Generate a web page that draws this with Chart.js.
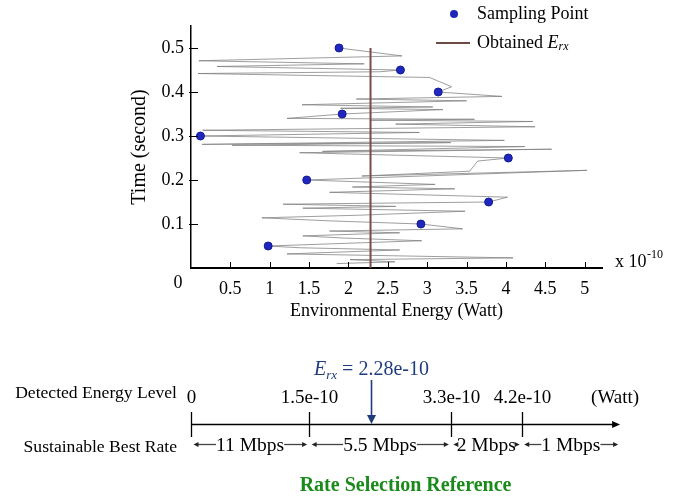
<!DOCTYPE html>
<html>
<head>
<meta charset="utf-8">
<script src="https://cdn.jsdelivr.net/npm/chart.js@4.4.0/dist/chart.umd.min.js"></script>
<style>
  html, body { margin: 0; padding: 0; background: #fff; }
</style>
</head>
<body>
<canvas id="energyChart" width="682" height="500"></canvas>
<script>
// Sampling points (energy in units of 1e-10 W, time in seconds)
const sampleEnergy = [0.98, 2.92, 3.78, 1.47, 4.03, 0.12, 1.92, 3.14, 2.66, 1.88];
const sampleTime = [0.05, 0.10, 0.15, 0.20, 0.25, 0.30, 0.35, 0.40, 0.45, 0.50];

// Measured environmental energy trace (turning points)
const traceEnergy = [1.85, 2.59, 2.02, 4.09, 1.22, 2.65, 1.38, 0.98, 2.93, 1.95,
  1.42, 2.65, 1.76, 3.45, 2.92, 1.78, 0.90, 2.14, 3.48, 1.42,
  2.60, 1.17, 3.78, 4.02, 1.76, 3.35, 2.05, 3.10, 1.47, 5.03,
  2.17, 3.54, 3.64, 4.03, 1.38, 4.58, 1.67, 4.24, 0.52, 3.30,
  0.14, 3.98, 0.12, 2.90, 0.15, 4.37, 2.60, 4.34, 2.27, 3.60,
  1.22, 1.92, 3.20, 1.90, 3.07, 1.41, 3.50, 2.10, 3.95, 3.14,
  3.31, 3.03, 0.09, 2.40, 2.66, 0.33, 2.20, 0.10, 2.68, 1.88];
const traceTime = [0.010, 0.014, 0.019, 0.023, 0.032, 0.041, 0.046, 0.050, 0.062, 0.068,
  0.073, 0.080, 0.084, 0.089, 0.100, 0.107, 0.114, 0.120, 0.129, 0.136,
  0.140, 0.145, 0.150, 0.161, 0.172, 0.180, 0.184, 0.190, 0.200, 0.222,
  0.209, 0.220, 0.243, 0.250, 0.262, 0.270, 0.265, 0.276, 0.279, 0.285,
  0.281, 0.290, 0.300, 0.308, 0.313, 0.321, 0.327, 0.333, 0.336, 0.338,
  0.340, 0.350, 0.360, 0.363, 0.366, 0.371, 0.380, 0.384, 0.390, 0.400,
  0.412, 0.433, 0.442, 0.446, 0.450, 0.458, 0.464, 0.471, 0.482, 0.500];

// Obtained E_rx
const erxValue = 2.28;
const erxSpan = [0, 0.5];

const xTicks = [0.5, 1, 1.5, 2, 2.5, 3, 3.5, 4, 4.5, 5];
const yTicks = [0.1, 0.2, 0.3, 0.4, 0.5];

// Rate selection reference
const levelValues = [0, 1.5, 3.3, 4.2];
const levelLabels = ['0', '1.5e-10', '3.3e-10', '4.2e-10'];
const rateLabels = ['11 Mbps', '5.5 Mbps', '2 Mbps', '1 Mbps'];
const levelAxisEnd = 5.45;

const SERIF = '"Liberation Serif", "Times New Roman", serif';
const f = (size, style) => (style ? style + ' ' : '') + size + 'px ' + SERIF;

function drawArrowHead(ctx, x, y, dir, len, half, color) {
  // dir: 1 right, -1 left, 2 down
  ctx.fillStyle = color;
  ctx.beginPath();
  if (dir === 2) {
    ctx.moveTo(x, y);
    ctx.lineTo(x - half, y - len);
    ctx.lineTo(x + half, y - len);
  } else {
    ctx.moveTo(x, y);
    ctx.lineTo(x - dir * len, y - half);
    ctx.lineTo(x - dir * len, y + half);
  }
  ctx.closePath();
  ctx.fill();
}

function seg(ctx, x1, y1, x2, y2) {
  ctx.beginPath();
  ctx.moveTo(x1, y1);
  ctx.lineTo(x2, y2);
  ctx.stroke();
}

const decorPlugin = {
  id: 'decor',
  afterDraw(chart) {
    const { ctx, chartArea, scales: { x, y } } = chart;
    ctx.save();

    // inward tick marks
    ctx.strokeStyle = '#000';
    ctx.lineWidth = 1;
    xTicks.forEach(v => {
      const px = Math.round(x.getPixelForValue(v)) + 0.5;
      seg(ctx, px, chartArea.bottom, px, chartArea.bottom - 6);
    });
    yTicks.forEach(v => {
      const py = Math.round(y.getPixelForValue(v)) + 0.5;
      seg(ctx, chartArea.left - 2, py, chartArea.left + 7, py);
    });

    ctx.fillStyle = '#000';
    ctx.textBaseline = 'middle';

    // origin label and exponent
    ctx.textAlign = 'center';
    ctx.font = f(18);
    ctx.fillText('0', chartArea.left - 13, chartArea.bottom + 15);
    ctx.textAlign = 'left';
    ctx.textBaseline = 'alphabetic';
    ctx.fillText('x 10', chartArea.right + 13, chartArea.bottom - 1);
    ctx.font = f(12);
    ctx.fillText('-10', chartArea.right + 45, chartArea.bottom - 10);

    // legend
    ctx.textBaseline = 'middle';
    ctx.fillStyle = '#1f27b8';
    ctx.beginPath();
    ctx.arc(454, 14, 4, 0, Math.PI * 2);
    ctx.fill();
    ctx.strokeStyle = '#6e4a44';
    ctx.lineWidth = 2;
    seg(ctx, 436, 43, 470, 43);
    ctx.fillStyle = '#000';
    ctx.font = f(18);
    ctx.fillText('Sampling Point', 477, 14);
    ctx.fillText('Obtained ', 477, 43);
    let lx = 477 + ctx.measureText('Obtained ').width;
    ctx.font = f(18, 'italic');
    ctx.fillText('E', lx, 43);
    lx += ctx.measureText('E').width;
    ctx.font = f(12, 'italic');
    ctx.fillText('rx', lx, 47);

    // ---- rate selection reference ----
    const lineY = 424.5;
    const x0 = x.getPixelForValue(levelValues[0]);
    const xEnd = x.getPixelForValue(levelAxisEnd);
    ctx.strokeStyle = '#000';
    ctx.lineWidth = 1.3;
    seg(ctx, x0, lineY, xEnd - 6, lineY);
    drawArrowHead(ctx, xEnd, lineY, 1, 8, 3.5, '#000');

    ctx.font = f(19);
    ctx.textAlign = 'center';
    ctx.textBaseline = 'alphabetic';
    levelValues.forEach((v, i) => {
      const px = Math.round(x.getPixelForValue(v)) + 0.5;
      seg(ctx, px, 412, px, 437);
      ctx.fillText(levelLabels[i], px, 403);
    });
    ctx.font = f(19);
    ctx.fillText('(Watt)', xEnd - 5, 403);

    ctx.textAlign = 'right';
    ctx.textBaseline = 'middle';
    ctx.font = f(17.6);
    ctx.fillText('Detected Energy Level', x0 - 14, 393);
    ctx.fillText('Sustainable Best Rate', x0 - 14, 447);

    // rate segments with double arrows
    const bounds = levelValues.map(v => x.getPixelForValue(v)).concat([xEnd]);
    ctx.font = f(19.5);
    ctx.textAlign = 'center';
    const rateY = 444.5;
    rateLabels.forEach((label, i) => {
      const a = bounds[i] + 2.5, b = bounds[i + 1] - 2;
      const cx = (bounds[i] + bounds[i + 1]) / 2;
      const w = ctx.measureText(label).width;
      ctx.fillStyle = '#000';
      ctx.fillText(label, cx, rateY + 1);
      ctx.strokeStyle = '#444';
      ctx.lineWidth = 1.3;
      if (cx - w / 2 > a + 7) {
        seg(ctx, a + 4, rateY, cx - w / 2, rateY);
      }
      drawArrowHead(ctx, a, rateY, -1, 5, 2.5, '#222');
      if (b - 7 > cx + w / 2) {
        seg(ctx, cx + w / 2, rateY, b - 4, rateY);
      }
      drawArrowHead(ctx, b, rateY, 1, 5, 2.5, '#222');
    });

    // E_rx marker
    const ex = Math.round(x.getPixelForValue(erxValue)) + 0.5;
    const navy = '#1f3c7c';
    ctx.strokeStyle = navy;
    ctx.lineWidth = 1.6;
    seg(ctx, ex, 380, ex, lineY - 8);
    drawArrowHead(ctx, ex, lineY - 0.5, 2, 9, 4.5, navy);
    ctx.fillStyle = navy;
    ctx.textAlign = 'left';
    ctx.textBaseline = 'alphabetic';
    const rest = ' = ' + erxValue.toFixed(2) + 'e-10';
    ctx.font = f(20, 'italic');
    const wE = ctx.measureText('E').width;
    ctx.font = f(13, 'italic');
    const wSub = ctx.measureText('rx').width;
    ctx.font = f(20);
    const wRest = ctx.measureText(rest).width;
    let tx = ex - (wE + wSub + wRest) / 2;
    ctx.font = f(20, 'italic');
    ctx.fillText('E', tx, 375);
    tx += wE;
    ctx.font = f(13, 'italic');
    ctx.fillText('rx', tx, 379);
    tx += wSub;
    ctx.font = f(20);
    ctx.fillText(rest, tx, 375);

    // caption
    ctx.fillStyle = '#1a8a1a';
    ctx.font = f(20, 'bold');
    ctx.textAlign = 'center';
    ctx.textBaseline = 'middle';
    ctx.fillText('Rate Selection Reference', (x0 + xEnd) / 2, 486);

    ctx.restore();
  }
};

const ctx = document.getElementById('energyChart').getContext('2d');
const energyChart = new Chart(ctx, {
  type: 'scatter',
  data: {
    datasets: [{
      label: 'Sampling Point',
      data: sampleEnergy.map((e, i) => ({ x: e, y: sampleTime[i] })),
      pointRadius: 4,
      pointHoverRadius: 4,
      backgroundColor: '#1f27c0',
      borderColor: '#141c90',
      borderWidth: 1,
      order: 1
    }, {
      label: 'Obtained Erx',
      data: erxSpan.map(t => ({ x: erxValue, y: t })),
      showLine: true,
      borderColor: '#7b4b4b',
      borderWidth: 2,
      pointRadius: 0,
      order: 2
    }, {
      label: 'Energy trace',
      data: traceEnergy.map((e, i) => ({ x: e, y: traceTime[i] })),
      showLine: true,
      borderColor: 'rgba(125, 125, 125, 0.75)',
      borderWidth: 1,
      pointRadius: 0,
      tension: 0,
      order: 3
    }]
  },
  options: {
    responsive: false,
    animation: false,
    layout: { padding: { left: 118, right: 80, top: 26, bottom: 174 } },
    plugins: {
      legend: { display: false },
      tooltip: { enabled: false }
    },
    scales: {
      x: {
        type: 'linear',
        min: 0,
        max: 5.22,
        afterBuildTicks: s => { s.ticks = xTicks.map(v => ({ value: v })); },
        afterFit: s => { s.height = 58; },
        grid: { display: false, drawTicks: false },
        border: { display: true, color: '#000', width: 2 },
        ticks: {
          color: '#000',
          font: { family: SERIF, size: 18 },
          padding: 10,
          maxRotation: 0,
          callback: v => String(v)
        },
        title: {
          display: true,
          text: 'Environmental Energy (Watt)',
          color: '#000',
          font: { family: SERIF, size: 18 },
          padding: { top: 0, bottom: 4 }
        }
      },
      y: {
        min: 0,
        max: 0.55,
        afterBuildTicks: s => { s.ticks = yTicks.map(v => ({ value: v })); },
        afterFit: s => { s.width = 73; },
        grid: { display: false, drawTicks: false },
        border: { display: true, color: '#000', width: 1.5 },
        ticks: {
          color: '#000',
          font: { family: SERIF, size: 18 },
          padding: 7,
          callback: v => String(v)
        },
        title: {
          display: true,
          text: 'Time (second)',
          color: '#000',
          font: { family: SERIF, size: 20 },
          padding: { top: 10, bottom: 0 }
        }
      }
    }
  },
  plugins: [decorPlugin]
});
</script>
</body>
</html>
